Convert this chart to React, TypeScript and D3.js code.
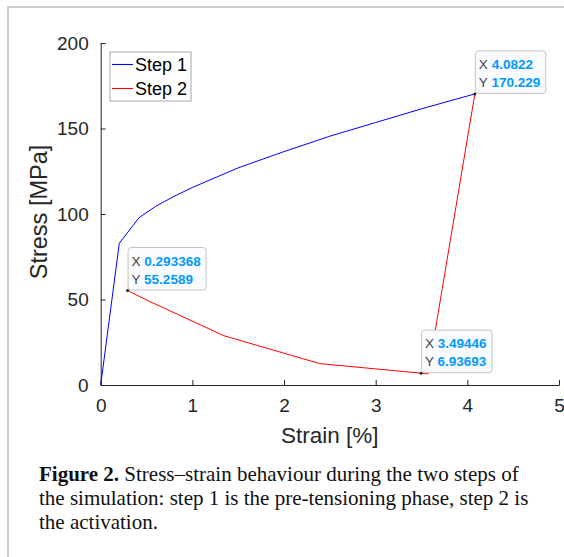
import React, { useRef, useEffect } from "react";
import * as d3 from "d3";

// step 1: pre-tensioning (strain %, stress MPa)
const step1Strain = [0, 0.203, 0.418, 0.6, 0.8, 1.0, 1.5, 2.0, 2.5, 3.0, 3.5, 4.0822];
const step1Stress = [0, 82.9, 97.8, 104.5, 110.3, 115.5, 127, 136.5, 145.5, 153.5, 161.5, 170.229];

// step 2: activation
const step2Strain = [4.0822, 3.57, 3.49446, 2.39, 1.345, 0.5, 0.293368];
const step2Stress = [170.229, 6.4, 6.93693, 12.5, 28.8, 49.7, 55.2589];

const xTicks = [0, 1, 2, 3, 4, 5];
const yTicks = [0, 50, 100, 150, 200];

// data tips: [x, y, x label, y label]
const tips = [
  [0.293368, 55.2589, "0.293368", "55.2589"],
  [4.0822, 170.229, "4.0822", "170.229"],
  [3.49446, 6.93693, "3.49446", "6.93693"],
];

const seriesNames = ["Step 1", "Step 2"];
const seriesColors = ["#0000ff", "#ff0000"];

const captionLines = [
  ["Figure 2.", " Stress\u2013strain behaviour during the two steps of"],
  ["", "the simulation: step 1 is the pre-tensioning phase, step 2 is"],
  ["", "the activation."],
];

const W = 564;
const H = 557;
const sans = "'Liberation Sans', Arial, Helvetica, sans-serif";
const serif = "'Liberation Serif', 'Times New Roman', serif";

export default function App() {
  const svgRef = useRef<SVGSVGElement | null>(null);

  useEffect(() => {
    const svg = d3.select(svgRef.current);
    svg.selectAll("*").remove();

    const x = d3.scaleLinear().domain([0, 5]).range([100.7, 559]);
    const y = d3.scaleLinear().domain([0, 200]).range([385, 43]);

    svg.append("rect").attr("width", W).attr("height", H).attr("fill", "#fff");

    // page frame
    svg
      .append("path")
      .attr("d", `M8,${H} L8,7 L${W},7`)
      .attr("fill", "none")
      .attr("stroke", "#cfcfcf")
      .attr("stroke-width", 2);

    const g = svg.append("g");

    // x axis
    const gx = g
      .append("g")
      .attr("transform", `translate(0,${y(0)})`)
      .call(
        d3
          .axisBottom(x)
          .tickValues(xTicks)
          .tickSizeInner(-5)
          .tickSizeOuter(0)
          .tickPadding(14)
          .tickFormat(d3.format("d"))
      );
    gx.select(".domain").attr("stroke", "#262626");
    gx.selectAll(".tick line").attr("stroke", "#262626");
    gx.selectAll("text")
      .attr("fill", "#262626")
      .attr("font-family", sans)
      .attr("font-size", 19);

    // y axis
    const gy = g
      .append("g")
      .attr("transform", `translate(${x(0)},0)`)
      .call(
        d3
          .axisLeft(y)
          .tickValues(yTicks)
          .tickSizeInner(-5)
          .tickSizeOuter(0)
          .tickPadding(12)
          .tickFormat(d3.format("d"))
      );
    gy.select(".domain").attr("stroke", "#262626");
    gy.selectAll(".tick line").attr("stroke", "#262626");
    gy.selectAll("text")
      .attr("fill", "#262626")
      .attr("font-family", sans)
      .attr("font-size", 19);

    // axis titles
    g.append("text")
      .attr("x", (x(0) + x(5)) / 2)
      .attr("y", 443)
      .attr("text-anchor", "middle")
      .attr("font-family", sans)
      .attr("font-size", 22.5)
      .attr("fill", "#262626")
      .text("Strain [%]");
    g.append("text")
      .attr("transform", `translate(47,${(y(0) + y(200)) / 2 - 2}) rotate(-90)`)
      .attr("text-anchor", "middle")
      .attr("font-family", sans)
      .attr("font-size", 23.5)
      .attr("fill", "#262626")
      .text("Stress [MPa]");

    // lines
    const line = d3
      .line<number[]>()
      .x((d) => d[0])
      .y((d) => d[1]);
    const s1 = step1Strain.map((v, i) => [x(v), y(step1Stress[i])]);
    const s2 = step2Strain.map((v, i) => [x(v), y(step2Stress[i])]);
    [s1, s2].forEach((pts, i) => {
      g.append("path")
        .attr("d", line(pts))
        .attr("fill", "none")
        .attr("stroke", seriesColors[i])
        .attr("stroke-width", 1);
    });

    // legend
    const lg = g.append("g").attr("transform", "translate(110,52)");
    lg.append("rect")
      .attr("width", 81)
      .attr("height", 49)
      .attr("fill", "#fff")
      .attr("stroke", "#a6a6a6")
      .attr("stroke-width", 1);
    seriesNames.forEach((name, i) => {
      const cy = 12.5 + i * 24;
      lg.append("line")
        .attr("x1", 2)
        .attr("x2", 23)
        .attr("y1", cy)
        .attr("y2", cy)
        .attr("stroke", seriesColors[i])
        .attr("stroke-width", 1.1);
      lg.append("text")
        .attr("x", 25)
        .attr("y", cy + 6.5)
        .attr("font-family", sans)
        .attr("font-size", 18)
        .attr("fill", "#000")
        .text(name);
    });

    // data tips
    tips.forEach((t) => {
      const px = x(t[0] as number);
      const py = y(t[1] as number);
      const tg = g.append("g").attr("transform", `translate(${px},${py})`);
      const box = tg.append("rect");
      const t1 = tg.append("text").attr("x", 4).attr("y", -25).attr("font-family", sans).attr("font-size", 13.5);
      t1.append("tspan").attr("fill", "#404040").text("X ");
      t1.append("tspan").attr("fill", "#0099ff").attr("font-weight", "bold").text(t[2] as string);
      const t2 = tg.append("text").attr("x", 4).attr("y", -7).attr("font-family", sans).attr("font-size", 13.5);
      t2.append("tspan").attr("fill", "#404040").text("Y ");
      t2.append("tspan").attr("fill", "#0099ff").attr("font-weight", "bold").text(t[3] as string);
      const w =
        Math.max(
          (t1.node() as SVGTextElement).getComputedTextLength(),
          (t2.node() as SVGTextElement).getComputedTextLength()
        ) + 9;
      box
        .attr("x", 0.5)
        .attr("y", -43)
        .attr("width", w)
        .attr("height", 42.5)
        .attr("rx", 3)
        .attr("fill", "#fafbff")
        .attr("stroke", "#c4c4c4")
        .attr("stroke-width", 1);
      tg.append("circle").attr("r", 1.5).attr("fill", "#222");
    });

    // caption
    captionLines.forEach((ln, i) => {
      const tx = svg
        .append("text")
        .attr("x", 39)
        .attr("y", 481 + i * 24)
        .attr("font-family", serif)
        .attr("font-size", 21)
        .attr("fill", "#111");
      if (ln[0]) tx.append("tspan").attr("font-weight", "bold").text(ln[0]);
      tx.append("tspan").text(ln[1]);
    });
  }, []);

  return (
    <div style={{ position: "fixed", left: 0, top: 0 }}>
      <svg ref={svgRef} width={W} height={H} style={{ display: "block" }} />
    </div>
  );
}
